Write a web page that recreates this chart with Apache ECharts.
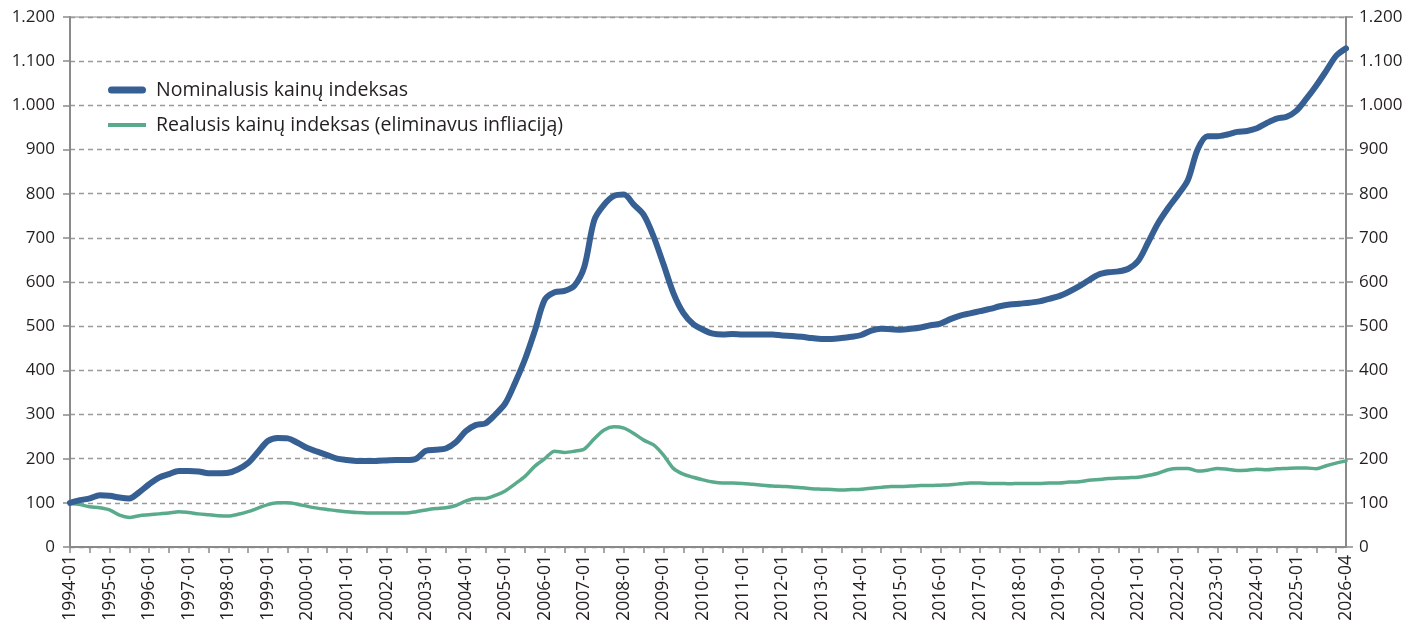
<!DOCTYPE html>
<html>
<head>
<meta charset="utf-8">
<script src="https://cdn.jsdelivr.net/npm/echarts@6/dist/echarts.min.js"></script>
<style>
html,body{margin:0;padding:0;background:#fff;}
#chart{width:1426px;height:629px;}
</style>
</head>
<body>
<div id="chart"></div>
<script>
// Quarterly observations, 1994-01 ... 2026-04
const startYear = 1994;
const endYear = 2026;
const endMonth = 4;

const seriesNames = ['Nominalusis kainų indeksas', 'Realusis kainų indeksas (eliminavus infliaciją)'];

const nominal = [
  100, 106, 110, 117,   // 1994
  116, 112, 110, 124,   // 1995
  142, 157, 165, 172,   // 1996
  172, 171, 167, 167,   // 1997
  168, 176, 190, 215,   // 1998
  240, 247, 246, 236,   // 1999
  224, 216, 208, 200,   // 2000
  197, 195, 195, 195,   // 2001
  196, 197, 197, 200,   // 2002
  218, 220, 223, 237,   // 2003
  262, 276, 280, 300,   // 2004
  325, 372, 425, 490,   // 2005
  560, 577, 580, 592,   // 2006
  635, 740, 775, 795,   // 2007
  798, 775, 752, 703,   // 2008
  640, 575, 530, 505,   // 2009
  492, 483, 481, 482,   // 2010
  481, 481, 481, 481,   // 2011
  479, 478, 476, 473,   // 2012
  471, 471, 473, 476,   // 2013
  480, 490, 494, 493,   // 2014
  492, 494, 497, 502,   // 2015
  506, 516, 524, 529,   // 2016
  534, 539, 545, 549,   // 2017
  551, 553, 556, 562,   // 2018
  568, 578, 590, 604,   // 2019
  617, 622, 624, 630,   // 2020
  648, 690, 733, 767,   // 2021
  797, 830, 900, 930,   // 2022
  930, 934, 940, 942,   // 2023
  948, 960, 970, 974,   // 2024
  988, 1015, 1045, 1078, // 2025
  1112, 1129            // 2026
];

const real = [
  99, 96, 91, 89,       // 1994
  84, 72, 67, 71,       // 1995
  73, 75, 77, 80,       // 1996
  78, 75, 73, 71,       // 1997
  70, 74, 80, 88,       // 1998
  96, 100, 100, 97,     // 1999
  92, 88, 85, 82,       // 2000
  80, 78, 77, 77,       // 2001
  77, 77, 77, 80,       // 2002
  84, 87, 89, 94,       // 2003
  104, 110, 110, 117,   // 2004
  127, 143, 160, 183,   // 2005
  200, 217, 214, 217,   // 2006
  222, 245, 265, 272,   // 2007
  269, 257, 242, 231,   // 2008
  208, 178, 165, 158,   // 2009
  152, 147, 145, 145,   // 2010
  144, 142, 140, 138,   // 2011
  137, 136, 134, 132,   // 2012
  131, 130, 129, 130,   // 2013
  131, 133, 135, 137,   // 2014
  137, 138, 139, 139,   // 2015
  140, 141, 143, 145,   // 2016
  145, 144, 144, 143,   // 2017
  144, 144, 144, 145,   // 2018
  145, 147, 148, 151,   // 2019
  153, 155, 156, 157,   // 2020
  158, 162, 167, 175,   // 2021
  178, 178, 172, 174,   // 2022
  178, 176, 173, 174,   // 2023
  176, 175, 177, 178,   // 2024
  179, 179, 177, 184,   // 2025
  190, 195              // 2026
];

const yMin = 0, yMax = 1200, yStep = 100;

// category labels: one per quarter
const categories = [];
for (let y = startYear; y <= endYear; y++) {
  for (let m = 1; m <= 10; m += 3) {
    if (y === endYear && m > endMonth) break;
    categories.push(y + '-' + (m < 10 ? '0' + m : '' + m));
  }
}
const lastIdx = categories.length - 1;

const fmtNum = v => {
  const s = String(v);
  return v >= 1000 ? s.slice(0, s.length - 3) + '.' + s.slice(-3) : s;
};

const textColor = '#231f20';
const axisColor = '#8a8a8a';
const fontFamily = '"Open Sans", "Noto Sans", sans-serif';
const blue = '#365f93';
const green = '#5aab8c';

const legendText = {fontSize: 19.5, color: textColor, fontFamily: fontFamily, padding: [0, 0, 0, 5]};

const chart = echarts.init(document.getElementById('chart'), null, {renderer: 'canvas'});
chart.setOption({
  animation: false,
  backgroundColor: '#ffffff',
  textStyle: {fontFamily: fontFamily},
  grid: {
    left: 70, right: 80, top: 17, bottom: 82,
    show: true, borderColor: axisColor, borderWidth: 1
  },
  legend: [
    {
      left: 103, top: 75,
      itemWidth: 38, itemHeight: 7,
      textStyle: legendText,
      data: [{name: seriesNames[0], icon: 'path://M3.5,0 L34.5,0 A3.5,3.5 0 0 1 34.5,7 L3.5,7 A3.5,3.5 0 0 1 3.5,0 Z', itemStyle: {color: blue}}]
    },
    {
      left: 103, top: 110,
      itemWidth: 38, itemHeight: 4,
      textStyle: legendText,
      data: [{name: seriesNames[1], icon: 'rect', itemStyle: {color: green}}]
    }
  ],
  xAxis: {
    type: 'category',
    data: categories,
    boundaryGap: false,
    axisLine: {lineStyle: {color: axisColor, width: 2}},
    axisTick: {
      show: true, length: 6,
      interval: idx => idx % 2 === 0,
      lineStyle: {color: axisColor, width: 1.5}
    },
    axisLabel: {
      rotate: 90, margin: 8,
      fontSize: 17.5, color: textColor, fontFamily: fontFamily,
      interval: idx => (idx % 4 === 0 && idx < lastIdx - 1) || idx === lastIdx
    },
    splitLine: {show: false}
  },
  yAxis: [
    {
      type: 'value', min: yMin, max: yMax, interval: yStep, position: 'left',
      axisLine: {show: true, lineStyle: {color: axisColor, width: 2}},
      axisTick: {show: true, length: 7, lineStyle: {color: axisColor, width: 1.5}},
      axisLabel: {fontSize: 17, color: textColor, margin: 15, formatter: fmtNum, fontFamily: fontFamily},
      splitLine: {show: true, lineStyle: {color: '#9a9a9a', width: 1.3, type: [5, 4]}}
    },
    {
      type: 'value', min: yMin, max: yMax, interval: yStep, position: 'right',
      axisLine: {show: true, lineStyle: {color: axisColor, width: 2}},
      axisTick: {show: true, length: 7, lineStyle: {color: axisColor, width: 1.5}},
      axisLabel: {fontSize: 17, color: textColor, margin: 13, formatter: fmtNum, fontFamily: fontFamily},
      splitLine: {show: false}
    }
  ],
  series: [
    {
      name: seriesNames[0], type: 'line', data: nominal,
      symbol: 'none', smooth: 0.3, z: 3,
      lineStyle: {color: blue, width: 6, cap: 'round', join: 'round'},
      itemStyle: {color: blue}
    },
    {
      name: seriesNames[1], type: 'line', data: real,
      symbol: 'none', smooth: 0.3, z: 2,
      lineStyle: {color: green, width: 3.5, cap: 'round', join: 'round'},
      itemStyle: {color: green}
    }
  ]
});
</script>
</body>
</html>
